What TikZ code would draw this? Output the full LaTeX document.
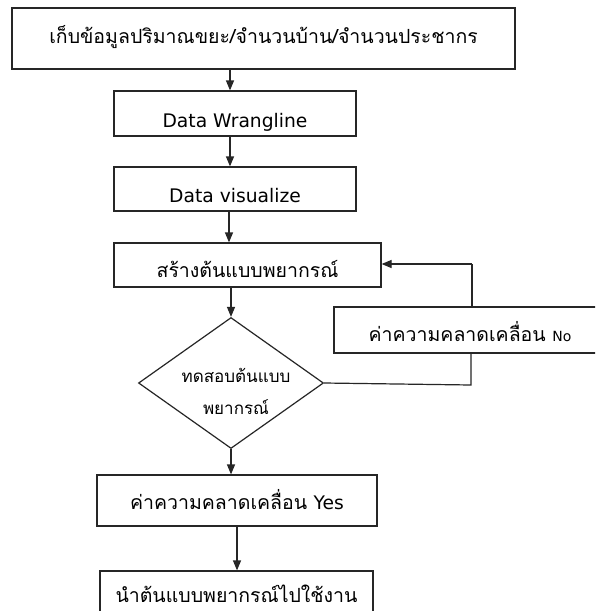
\documentclass[tikz,border=0pt]{standalone}
\usepackage{fontspec}
\setmainfont{DejaVu Sans}
\newfontfamily\thai[Script=Thai]{Loma}
\usetikzlibrary{arrows.meta,shapes.geometric}
\newcommand{\lowr}[2]{\raisebox{-#1}[0pt][0pt]{#2}}
\begin{document}
\begin{tikzpicture}[x=1pt,y=-1pt,
  box/.style={draw=black!85,line width=1.2pt,fill=white,inner sep=0pt,font=\fontsize{18.7}{22}\selectfont},
  th/.style={font=\thai\fontsize{19.5}{22}\selectfont},
  arr/.style={draw=black!85,line width=1.2pt,-{Triangle[length=10pt,width=8pt]}},
  ln/.style={draw=black!85,line width=1.2pt},
  dtext/.style={inner sep=0pt,align=center,font=\thai\fontsize{17}{32}\selectfont}]
\useasboundingbox (0,0) rectangle (595,611);
\clip (0,0) rectangle (595,611);
\fill[white] (0,0) rectangle (595,611);
% boxes
\node[box,th,minimum width=503pt,minimum height=61pt] (b1) at (263.5,38.5) {\lowr{5pt}{เก็บข้อมูลปริมาณขยะ/จำนวนบ้าน/จำนวนประชากร}};
\node[box,minimum width=242pt,minimum height=45pt] (b2) at (235,113.5) {\lowr{14pt}{Data Wrangline}};
\node[box,minimum width=242pt,minimum height=44pt] (b3) at (235,189) {\lowr{13pt}{Data visualize}};
\node[box,th,minimum width=267pt,minimum height=44pt] (b4) at (247.5,265) {\lowr{12pt}{สร้างต้นแบบพยากรณ์}};
\node[draw=black!85,line width=1.2pt,diamond,inner sep=0pt,minimum width=185pt,minimum height=131pt] (d) at (231,383) {};
\node[dtext] (dt) at (236,391) {ทดสอบต้นแบบ\\พยากรณ์};
\node[box,th,minimum width=272pt,minimum height=46pt] (b5) at (470,330) {\lowr{11pt}{ค่าความคลาดเคลื่อน {\rmfamily\fontsize{14}{16}\selectfont No}}};
\node[box,th,minimum width=280pt,minimum height=51pt] (b6) at (237,500.5) {\lowr{9pt}{ค่าความคลาดเคลื่อน {\rmfamily\fontsize{18.7}{22}\selectfont Yes}}};
\node[box,th,minimum width=273pt,minimum height=48pt] (b7) at (236.5,595) {\lowr{7pt}{นำต้นแบบพยากรณ์ไปใช้งาน}};
% connectors
\draw[arr] (b1.south -| 230,0) -- (b2.north -| 230,0);
\draw[arr] (b2.south -| 230,0) -- (b3.north -| 230,0);
\draw[arr] (b3.south -| 229,0) -- (b4.north -| 229,0);
\draw[arr] (b4.south -| d.north) -- (d.north);
\draw[arr] (d.south) -- (b6.north -| d.south);
\draw[arr] (b6.south -| 237,0) -- (b7.north -| 237,0);
\coordinate (c1) at (471,385);
\coordinate (c2) at (472,264);
\draw[ln] (d.east) -- (c1) -- (b5.south -| c1);
\draw[ln] (b5.north -| c2) -- (c2);
\draw[arr] (c2) -- (b4.east |- c2);
\end{tikzpicture}
\end{document}
